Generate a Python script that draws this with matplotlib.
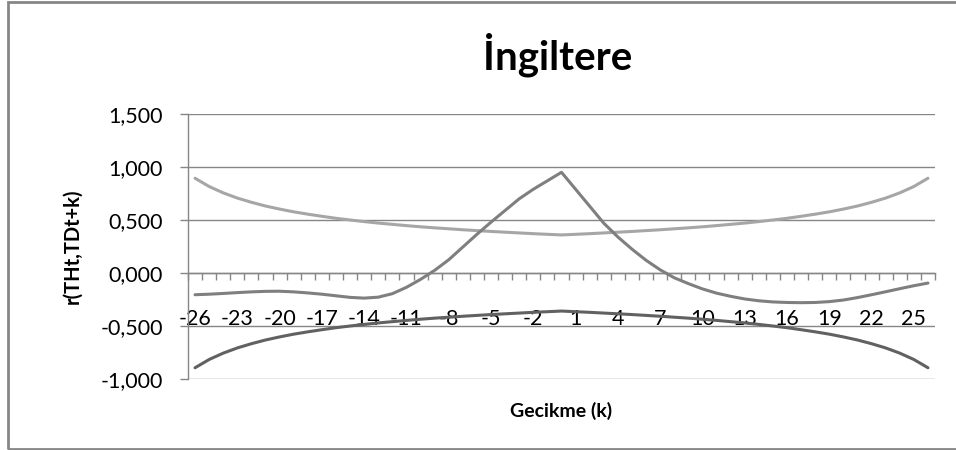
import matplotlib
matplotlib.use("Agg")
import matplotlib.pyplot as plt
from matplotlib.patches import Rectangle
from matplotlib.ticker import FuncFormatter

plt.rcParams['font.family'] = ['Lato', 'DejaVu Sans']

# Gecikme (lag) kategorileri
lags = list(range(-26, 27))

# ust guven siniri
upper = [0.894, 0.816, 0.756, 0.707, 0.667, 0.632, 0.603, 0.577, 0.555, 0.535,
         0.516, 0.500, 0.485, 0.471, 0.459, 0.447, 0.436, 0.426, 0.417, 0.408,
         0.400, 0.392, 0.385, 0.378, 0.371, 0.365, 0.359,
         0.365, 0.371, 0.378, 0.385, 0.392, 0.400, 0.408, 0.417, 0.426, 0.436,
         0.447, 0.459, 0.471, 0.485, 0.500, 0.516, 0.535, 0.555, 0.577, 0.603,
         0.632, 0.667, 0.707, 0.756, 0.816, 0.894]

# alt guven siniri
lower = [-0.894, -0.816, -0.756, -0.707, -0.667, -0.632, -0.603, -0.577, -0.555, -0.535,
         -0.516, -0.500, -0.485, -0.471, -0.459, -0.447, -0.436, -0.426, -0.417, -0.408,
         -0.400, -0.392, -0.385, -0.378, -0.371, -0.365, -0.359,
         -0.365, -0.371, -0.378, -0.385, -0.392, -0.400, -0.408, -0.417, -0.426, -0.436,
         -0.447, -0.459, -0.471, -0.485, -0.500, -0.516, -0.535, -0.555, -0.577, -0.603,
         -0.632, -0.667, -0.707, -0.756, -0.816, -0.894]

# capraz korelasyon r(THt, TDt+k)
ccf = [-0.205, -0.200, -0.193, -0.185, -0.178, -0.173, -0.172, -0.178, -0.188, -0.200,
       -0.215, -0.230, -0.237, -0.228, -0.195, -0.135, -0.060, 0.025, 0.125, 0.245,
       0.365, 0.480, 0.590, 0.700, 0.790, 0.870, 0.950,
       0.790, 0.630, 0.470, 0.340, 0.225, 0.120, 0.030, -0.045, -0.100, -0.150,
       -0.190, -0.220, -0.245, -0.262, -0.273, -0.278, -0.280, -0.278, -0.270, -0.255,
       -0.232, -0.205, -0.177, -0.148, -0.120, -0.095]

label_lags = list(range(-26, 27, 3))

grid_col = '#868686'

fig = plt.figure(figsize=(9.56, 4.5), dpi=100)
ax = fig.add_axes([188 / 956, 1 - 379 / 450, (935 - 188) / 956, (379 - 114) / 450])

ax.plot(lags, upper, color='#a6a6a6', lw=2.2, zorder=3, solid_capstyle='round')
ax.plot(lags, lower, color='#616161', lw=2.2, zorder=3, solid_capstyle='round')
ax.plot(lags, ccf, color='#7f7f7f', lw=2.2, zorder=4, solid_capstyle='round')

ax.set_xlim(-26.5, 26.5)
ax.set_ylim(-1.0, 1.5)
ax.set_yticks([-1.0, -0.5, 0.0, 0.5, 1.0, 1.5])
ax.yaxis.set_major_formatter(FuncFormatter(lambda v, p: f"{v:.3f}".replace('.', ',')))
ax.grid(axis='y', color=grid_col, lw=1.0)
ax.set_axisbelow(True)

for s in ['top', 'right']:
    ax.spines[s].set_visible(False)
ax.spines['left'].set_color(grid_col)
ax.spines['left'].set_linewidth(1.0)
ax.spines['bottom'].set_position(('data', 0))
ax.spines['bottom'].set_color(grid_col)
ax.spines['bottom'].set_linewidth(1.0)

ax.tick_params(axis='y', length=6, color=grid_col, width=1.0, pad=12, labelsize=15.5)
ax.set_xticks(label_lags)
ax.set_xticklabels([str(k) for k in label_lags])
ax.set_xticks([k + 0.5 for k in range(-27, 27)], minor=True)
ax.tick_params(axis='x', which='major', length=5, color=(0, 0, 0, 0), pad=21, labelsize=15.5)
ax.tick_params(axis='x', which='minor', length=5, color=grid_col, width=1.0, direction='out')

ax.set_title('İngiltere', fontsize=29, fontweight='bold', pad=32, x=0.495)
ax.set_ylabel('r(THt,TDt+k)', fontsize=14.5, fontweight='bold', labelpad=13)
ax.text(0.5, -0.12, 'Gecikme (k)', transform=ax.transAxes, ha='center', va='center',
        fontsize=14, fontweight='bold')

fig.patches.append(Rectangle((8 / 956, 1 / 450), 1.0, 447 / 450, transform=fig.transFigure,
                             fill=False, edgecolor=grid_col, lw=2.0))

fig.savefig('out.png', dpi=100)
